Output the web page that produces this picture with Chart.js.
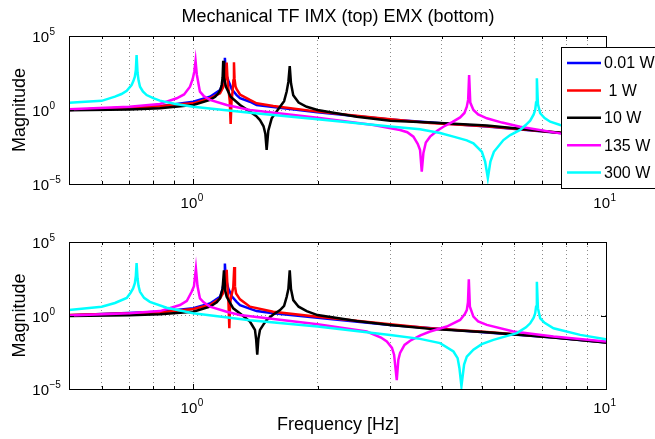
<!DOCTYPE html>
<html lang="en">
<head>
  <meta charset="UTF-8" />
  <title>Mechanical TF IMX (top) EMX (bottom)</title>
  <script src="https://cdn.jsdelivr.net/npm/chart.js"></script>
  <style>
    body { margin: 0; background: #ffffff; }
    #wrap { position: relative; width: 655px; height: 439px; overflow: hidden; }
    #wrap canvas { position: absolute; left: 0; }
    #topChart { top: 0; }
    #bottomChart { top: 215px; }
  </style>
</head>
<body>
  <div id="wrap">
    <canvas id="topChart" width="655" height="215"></canvas>
    <canvas id="bottomChart" width="655" height="224"></canvas>
  </div>

  <script>
    // ---- data: frequency [Hz] and magnitude ----
    // IMX (top)
    const imx001F = [0.5, 0.83, 0.912, 1.0, 1.098, 1.161, 1.175, 1.182, 1.188, 1.193, 1.198, 1.205, 1.216, 1.24, 1.274, 1.298, 1.372, 1.424, 2.0, 3.0, 5.144, 7.744, 10];
    const imx001M = [1, 1.78, 2.57, 3.63, 7.94, 22.4, 50.1, 100, 316, 3388, 398, 200, 100, 25.1, 10.2, 6.31, 3.63, 2.19, 0.708, 0.224, 0.0759, 0.0282, 0.0135];

    const imx1F = [0.5, 0.83, 0.912, 1.0, 1.098, 1.161, 1.18, 1.19, 1.2, 1.205, 1.21, 1.218, 1.226, 1.232, 1.238, 1.246, 1.251, 1.255, 1.259, 1.266, 1.274, 1.298, 1.372, 1.424, 1.563, 2.0, 3.0, 3.748, 5.144, 7.744, 10];
    const imx1M = [1, 1.78, 2.4, 2.82, 6.17, 13.5, 31.6, 63.1, 251, 1585, 158, 20, 3.98, 0.112, 3.98, 20, 100, 1660, 126, 39.8, 25.1, 11.2, 4.79, 2.82, 1.86, 0.776, 0.234, 0.132, 0.0794, 0.0288, 0.0141];

    const imx10F = [0.5, 0.7, 0.83, 1.0, 1.098, 1.13, 1.15, 1.165, 1.172, 1.178, 1.182, 1.187, 1.2, 1.232, 1.298, 1.372, 1.42, 1.451, 1.48, 1.495, 1.506, 1.52, 1.549, 1.623, 1.66, 1.684, 1.7, 1.713, 1.725, 1.747, 1.8, 1.883, 2.0, 2.489, 3.0, 3.748, 5.144, 7.744, 10];
    const imx10M = [0.955, 1.1, 1.29, 2.19, 4.79, 7.94, 13.5, 25.1, 49, 158, 2138, 158, 37.2, 7.94, 2.19, 0.776, 0.398, 0.209, 0.0794, 0.0251, 0.002, 0.0398, 0.275, 1.66, 3.98, 17.8, 79.4, 933, 63.1, 10, 3.16, 1.66, 1, 0.355, 0.191, 0.141, 0.0891, 0.0288, 0.0141];

    const imx135F = [0.5, 0.7, 0.83, 0.912, 0.95, 0.982, 0.997, 1.006, 1.013, 1.02, 1.038, 1.06, 1.098, 1.205, 1.372, 2.0, 2.732, 3.17, 3.3, 3.415, 3.5, 3.544, 3.578, 3.611, 3.66, 3.748, 3.9, 4.037, 4.25, 4.432, 4.54, 4.6, 4.635, 4.66, 4.69, 4.773, 4.9, 5.144, 5.6, 6.194, 7.744, 10];
    const imx135M = [1.12, 1.66, 2.57, 6.17, 11.2, 37.2, 126, 398, 2042, 251, 17.4, 8.91, 4.79, 2.19, 1, 0.302, 0.0977, 0.0447, 0.0316, 0.0158, 0.00501, 0.002, 6.76e-5, 0.00126, 0.00631, 0.0158, 0.0398, 0.0741, 0.158, 0.316, 0.631, 1.66, 5.01, 229, 3.16, 1, 0.501, 0.275, 0.141, 0.0741, 0.0263, 0.0126];

    const imx300F = [0.5, 0.6, 0.646, 0.67, 0.69, 0.709, 0.716, 0.722, 0.726, 0.729, 0.733, 0.737, 0.743, 0.755, 0.771, 0.8, 0.83, 0.9, 1.0, 1.372, 2.0, 3.0, 3.544, 3.963, 4.27, 4.6, 4.773, 5.003, 5.095, 5.173, 5.248, 5.35, 5.643, 5.86, 6.194, 6.4, 6.551, 6.68, 6.736, 6.77, 6.8, 6.84, 6.927, 7.1, 7.325, 7.744, 8.5, 10];
    const imx300M = [3.09, 4.17, 7.94, 12.0, 20, 49, 89.1, 178, 501, 5248, 316, 100, 37.2, 17.8, 10.2, 6.31, 4.27, 2.63, 1.66, 0.661, 0.234, 0.0759, 0.0501, 0.0282, 0.0158, 0.00891, 0.00562, 0.00151, 0.000324, 2.5e-5, 0.000324, 0.00151, 0.00933, 0.0204, 0.0447, 0.1, 0.191, 0.501, 1, 3.16, 138, 2.51, 0.603, 0.282, 0.162, 0.0977, 0.0562, 0.0316];

    // EMX (bottom)
    const emx001F = [0.5, 0.83, 1.0, 1.098, 1.161, 1.175, 1.182, 1.188, 1.193, 1.198, 1.205, 1.216, 1.24, 1.274, 1.298, 1.424, 1.563, 2.0, 3.0, 5.144, 7.461, 10];
    const emx001M = [1.05, 1.78, 3.16, 6.61, 18.6, 50.1, 115, 316, 3388, 398, 200, 69.2, 20, 8.51, 5.13, 2.0, 1.41, 0.708, 0.224, 0.0708, 0.0316, 0.0145];

    const emx1F = [0.5, 0.83, 1.0, 1.098, 1.161, 1.18, 1.19, 1.2, 1.205, 1.21, 1.216, 1.223, 1.228, 1.236, 1.25, 1.257, 1.262, 1.27, 1.298, 1.372, 1.563, 2.0, 3.0, 3.748, 5.144, 7.461, 10];
    const emx1M = [1.07, 1.58, 2.75, 5.13, 14.5, 31.6, 79.4, 251, 1259, 100, 15.8, 0.135, 6.31, 20, 79.4, 1995, 100, 31.6, 12.6, 3.98, 1.82, 0.832, 0.251, 0.135, 0.0759, 0.0331, 0.0151];

    const emx10F = [0.5, 0.7, 0.83, 1.0, 1.098, 1.14, 1.161, 1.178, 1.187, 1.195, 1.205, 1.25, 1.322, 1.372, 1.395, 1.411, 1.42, 1.429, 1.438, 1.451, 1.48, 1.506, 1.56, 1.623, 1.66, 1.684, 1.7, 1.713, 1.725, 1.747, 1.8, 1.883, 2.0, 2.489, 3.0, 3.748, 5.144, 7.461, 10];
    const emx10M = [0.933, 1.05, 1.2, 1.82, 3.98, 7.94, 14.5, 69.2, 1175, 50.1, 18.6, 3.09, 0.933, 0.38, 0.178, 0.105, 0.0251, 0.00214, 0.0251, 0.105, 0.251, 0.501, 1.12, 2.34, 4.47, 18.6, 63.1, 1175, 63.1, 11.2, 3.98, 2.0, 1.07, 0.427, 0.229, 0.123, 0.0724, 0.0316, 0.0145];

    const emx135F = [0.5, 0.7, 0.83, 0.929, 0.965, 0.991, 1.004, 1.015, 1.024, 1.038, 1.06, 1.098, 1.205, 1.298, 2.0, 2.633, 2.85, 2.944, 3.03, 3.066, 3.112, 3.14, 3.17, 3.25, 3.353, 3.55, 3.748, 4.114, 4.432, 4.55, 4.6, 4.63, 4.652, 4.68, 4.773, 4.9, 5.144, 5.967, 7.461, 10];
    const emx135M = [1, 1.41, 2.0, 5.13, 10, 40.7, 100, 1549, 100, 14.5, 7.94, 3.98, 1.82, 1.07, 0.251, 0.0813, 0.0316, 0.017, 0.00631, 0.00214, 3.98e-5, 0.001, 0.00282, 0.01, 0.0191, 0.0447, 0.0813, 0.178, 0.501, 1.26, 2.34, 7.94, 295, 3.98, 0.832, 0.398, 0.229, 0.0813, 0.0372, 0.017];

    const emx300F = [0.5, 0.6, 0.646, 0.69, 0.705, 0.715, 0.722, 0.726, 0.729, 0.733, 0.737, 0.743, 0.76, 0.785, 0.862, 1.0, 1.372, 2.0, 3.0, 3.544, 3.963, 4.27, 4.37, 4.414, 4.464, 4.531, 4.6, 4.773, 5.0, 5.337, 6.081, 6.4, 6.551, 6.68, 6.736, 6.77, 6.8, 6.84, 6.927, 7.1, 7.461, 8.66, 10];
    const emx300M = [2.34, 3.98, 7.08, 15.8, 35.5, 69.2, 158, 501, 3715, 316, 100, 40.7, 15.8, 8.51, 3.39, 1.41, 0.468, 0.178, 0.0479, 0.0257, 0.0132, 0.00355, 0.00126, 0.000269, 1.55e-5, 0.000457, 0.00158, 0.00468, 0.0112, 0.0219, 0.0631, 0.158, 0.295, 0.708, 1.41, 3.98, 195, 3.16, 0.646, 0.316, 0.135, 0.0479, 0.0245];

    const legendNames = ['0.01 W', ' 1 W', '10 W', '135 W', '300 W'];
    const lineColors = ['#0000ff', '#ff0000', '#000000', '#ff00ff', '#00ffff'];

    const xMajor = [1, 10];            // labelled 10^0, 10^1
    const xMinor = [0.6, 0.7, 0.8, 0.9, 2, 3, 4, 5, 6, 7, 8, 9];
    const yMajor = [1e5, 1, 1e-5];     // labelled 10^5, 10^0, 10^-5

    const FONT = "'Liberation Sans', Arial, Helvetica, sans-serif";

    function pts(f, m) {
      return f.map((x, i) => ({ x: x, y: m[i] }));
    }

    function series(f, m, idx) {
      return {
        label: legendNames[idx],
        data: pts(f, m),
        borderColor: lineColors[idx],
        borderWidth: 2.5,
        pointRadius: 0,
        tension: 0,
        fill: false,
        order: 4 - idx   // later series drawn on top, like matlab
      };
    }

    // 10 with superscript exponent, "10" right edge at xr, baseline at yb
    function powLabel(ctx, xr, yb, exp) {
      ctx.textBaseline = 'alphabetic';
      ctx.font = '15px ' + FONT;
      ctx.textAlign = 'right';
      ctx.fillText('10', xr, yb);
      ctx.font = '10px ' + FONT;
      ctx.textAlign = 'left';
      ctx.fillText(exp < 0 ? '\u2212' + (-exp) : String(exp), xr + 0.5, yb - 7);
    }

    const framePlugin = {
      id: 'frame',
      afterDatasetsDraw(chart, args, opts) {
        const { ctx, chartArea: a, scales: { x, y } } = chart;
        ctx.save();
        ctx.strokeStyle = '#000';
        ctx.lineWidth = 1;
        ctx.strokeRect(a.left + 0.5, a.top + 0.5, a.right - a.left, a.bottom - a.top);

        // inward ticks
        ctx.beginPath();
        const xt = (v, len) => {
          const px = Math.round(x.getPixelForValue(v)) + 0.5;
          ctx.moveTo(px, a.bottom); ctx.lineTo(px, a.bottom - len);
          ctx.moveTo(px, a.top); ctx.lineTo(px, a.top + len);
        };
        xMinor.forEach(v => xt(v, 3));
        xMajor.forEach(v => xt(v, 5));
        yMajor.forEach(v => {
          const py = Math.round(y.getPixelForValue(v)) + 0.5;
          ctx.moveTo(a.left, py); ctx.lineTo(a.left + 5, py);
          ctx.moveTo(a.right, py); ctx.lineTo(a.right - 5, py);
        });
        ctx.stroke();
        ctx.restore();
      },
      afterDraw(chart, args, opts) {
        const { ctx, chartArea: a, scales: { x, y } } = chart;
        ctx.save();
        ctx.fillStyle = '#000';

        // tick labels
        yMajor.forEach(v => powLabel(ctx, 49, y.getPixelForValue(v) + 6, Math.round(Math.log10(v))));
        xMajor.forEach(v => powLabel(ctx, x.getPixelForValue(v) + 4, a.bottom + 24, Math.round(Math.log10(v))));

        // y title
        ctx.font = '18px ' + FONT;
        ctx.textAlign = 'center';
        ctx.textBaseline = 'middle';
        ctx.save();
        ctx.translate(20, (a.top + a.bottom) / 2);
        ctx.rotate(-Math.PI / 2);
        ctx.fillText('Magnitude', 0, 0);
        ctx.restore();

        if (opts.title) {
          ctx.fillText(opts.title, 338, 17);
        }
        if (opts.xTitle) {
          ctx.fillText(opts.xTitle, 338, a.bottom + 36);
        }

        if (opts.legend) {
          ctx.fillStyle = '#fff';
          ctx.fillRect(561, 47, 120, 142);
          ctx.strokeStyle = '#000';
          ctx.lineWidth = 1;
          ctx.strokeRect(561.5, 47.5, 120, 141);
          ctx.font = '16px ' + FONT;
          ctx.textAlign = 'left';
          ctx.textBaseline = 'middle';
          legendNames.forEach((name, i) => {
            const yy = 63 + i * 27.4;
            ctx.strokeStyle = lineColors[i];
            ctx.lineWidth = 2.5;
            ctx.beginPath();
            ctx.moveTo(567, yy);
            ctx.lineTo(601, yy);
            ctx.stroke();
            ctx.fillStyle = '#000';
            ctx.fillText(name, 604, yy + 1);
          });
        }
        ctx.restore();
      }
    };

    function scalesCfg() {
      return {
        x: {
          type: 'logarithmic', min: 0.5, max: 10,
          ticks: { display: false },
          grid: { color: 'rgba(0,0,0,0.45)', lineWidth: 1, drawTicks: false },
          border: { display: false, dash: [1, 3] },
          afterBuildTicks: s => { s.ticks = xMinor.concat([1]).map(v => ({ value: v })); },
          afterFit: s => { s.height = 0; }
        },
        y: {
          type: 'logarithmic', min: 1e-5, max: 1e5,
          ticks: { display: false },
          grid: { color: 'rgba(0,0,0,0.45)', lineWidth: 1, drawTicks: false },
          border: { display: false, dash: [1, 3] },
          afterBuildTicks: s => { s.ticks = [1].map(v => ({ value: v })); },
          afterFit: s => { s.width = 0; }
        }
      };
    }

    function makeChart(id, datasets, padding, frameOpts) {
      return new Chart(document.getElementById(id).getContext('2d'), {
        type: 'line',
        data: { datasets: datasets },
        options: {
          responsive: false,
          animation: false,
          devicePixelRatio: 1,
          layout: { padding: padding },
          scales: scalesCfg(),
          plugins: {
            legend: { display: false },
            tooltip: { enabled: false },
            frame: frameOpts
          }
        },
        plugins: [framePlugin]
      });
    }

    makeChart('topChart', [
      series(imx001F, imx001M, 0),
      series(imx1F, imx1M, 1),
      series(imx10F, imx10M, 2),
      series(imx135F, imx135M, 3),
      series(imx300F, imx300M, 4)
    ], { left: 69, right: 49, top: 36, bottom: 31 },
    { title: 'Mechanical TF IMX (top) EMX (bottom)', legend: true });

    makeChart('bottomChart', [
      series(emx001F, emx001M, 0),
      series(emx1F, emx1M, 1),
      series(emx10F, emx10M, 2),
      series(emx135F, emx135M, 3),
      series(emx300F, emx300M, 4)
    ], { left: 69, right: 49, top: 27, bottom: 50 },
    { xTitle: 'Frequency [Hz]' });
  </script>
</body>
</html>
